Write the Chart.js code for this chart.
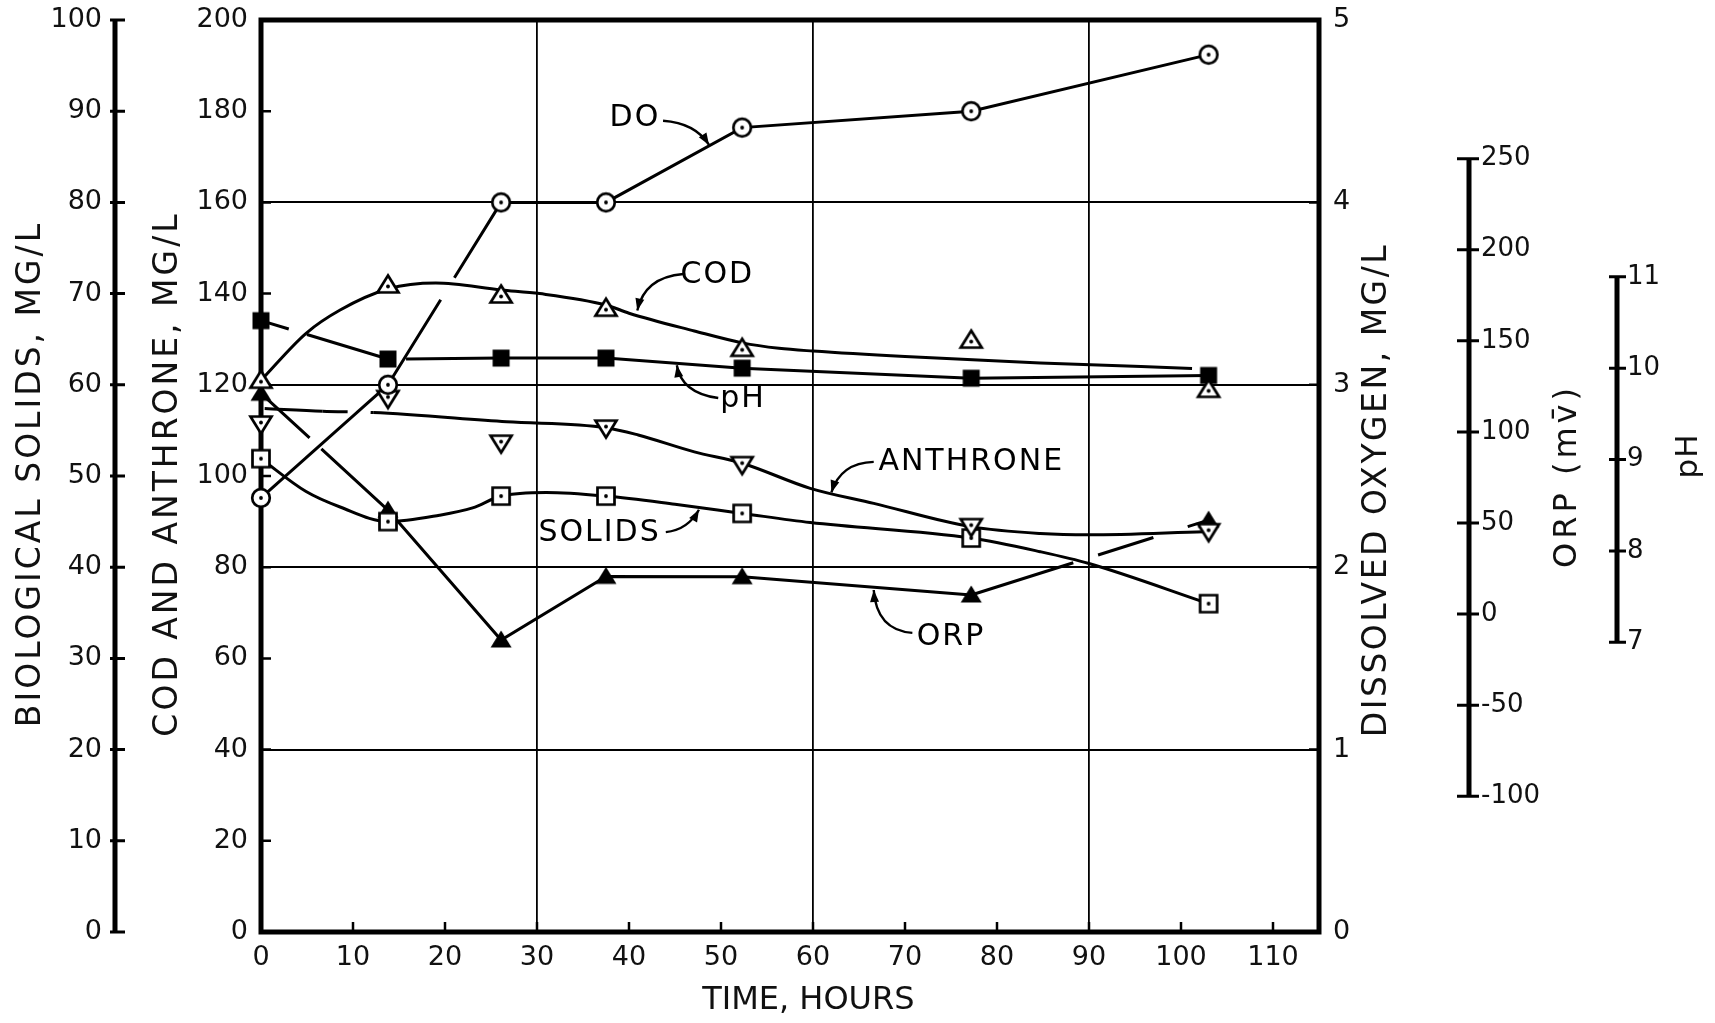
<!DOCTYPE html>
<html>
<head>
<meta charset="utf-8">
<script src="https://cdn.jsdelivr.net/npm/chart.js@4.4.0/dist/chart.umd.min.js"></script>
<style>
html,body{margin:0;padding:0;background:#fff}
#wrap{width:1715px;height:1023px}
</style>
</head>
<body>
<div id="wrap"><canvas id="c"></canvas></div>
<script>
'use strict';
// ── DATA ──────────────────────────────────────────────────────
const hours        = [0, 13.8, 26.1, 37.5, 52.3, 77.2, 103];
const doVals       = [2.38, 3.0, 4.0, 4.0, 4.41, 4.5, 4.81];
const codVals      = [121, 141.9, 139.7, 136.8, 128.0, 129.8, 119.0];
const phVals       = [10.52, 10.10, 10.11, 10.11, 10.0, 9.89, 9.92];
const anthroneVals = [111.4, 117.0, 107.2, 110.5, 102.5, 88.9, 87.8];
const solidsVals   = [51.9, 45.0, 47.8, 47.8, 45.9, 43.2, 36.0];
const orpVals      = [121.2, 57.1, -14.2, 20.7, 20.5, 10.5, 51.6];

// hand-drawn smooth curves through the scatter
const codCurveHours = [0, 4.9, 8.6, 13.8, 19, 26.1, 30.3, 37.5, 40, 47.1, 52.3, 56.3, 60, 70, 84.7, 101.2];
const codCurveVals  = [121, 131.3, 136.4, 141, 142.3, 140.8, 140, 137.5, 135.7, 131.8, 129.2, 128, 127.4, 126.2, 124.8, 123.6];
const anthCurveHours = [0.4, 6.7, 12.2, 26.7, 37.5, 41, 47.1, 52.3, 59.7, 66.6, 77.1, 84.7, 90, 102.5];
const anthCurveVals  = [114.8, 114.2, 113.9, 111.9, 110.6, 109, 105.3, 102.8, 97.3, 94, 88.9, 87.4, 87.1, 87.8];
const solCurveHours = [0, 4.9, 8.6, 13.8, 19.4, 23, 26.1, 31, 37.5, 45, 52.3, 59.7, 77.2, 84.7, 90, 103];
const solCurveVals  = [51.9, 48.3, 46.6, 45.0, 45.7, 46.5, 47.8, 48.2, 47.8, 46.9, 45.9, 44.9, 43.2, 41.7, 40.4, 36.0];

// ── TICKS ─────────────────────────────────────────────────────
const xTicks      = [0, 10, 20, 30, 40, 50, 60, 70, 80, 90, 100, 110];
const solidsTicks = [0, 10, 20, 30, 40, 50, 60, 70, 80, 90, 100];
const codTicks    = [0, 20, 40, 60, 80, 100, 120, 140, 160, 180, 200];
const doTicks     = [0, 1, 2, 3, 4, 5];
const orpTicks    = [-100, -50, 0, 50, 100, 150, 200, 250];
const phTicks     = [7, 8, 9, 10, 11];
const xGrid   = [30, 60, 90];
const codGrid = [40, 80, 120, 160];

// ── HELPERS ───────────────────────────────────────────────────
const FONT = '"DejaVu Sans", "Liberation Sans", sans-serif';
const pts = (xs, ys) => xs.map((x, i) => ({x, y: ys[i]}));

function marker(kind){
  const s = 28, m = s/2, c = document.createElement('canvas');
  c.width = c.height = s;
  const g = c.getContext('2d');
  g.strokeStyle = g.fillStyle = '#000';
  g.lineWidth = 2.7; g.lineJoin = 'miter';
  g.beginPath();
  let dy = 0;
  if (kind === 'circle') g.arc(m, m, 8.8, 0, Math.PI*2);
  else if (kind === 'square' || kind === 'fsquare') g.rect(m-8.5, m-8.5, 17, 17);
  else if (kind === 'tri' || kind === 'ftri') { g.moveTo(m, m-9.5); g.lineTo(m+10.5, m+7.5); g.lineTo(m-10.5, m+7.5); g.closePath(); dy = 1.5; }
  else if (kind === 'itri') { g.moveTo(m, m+9.5); g.lineTo(m+10.5, m-7.5); g.lineTo(m-10.5, m-7.5); g.closePath(); dy = -1.5; }
  if (kind[0] === 'f') { g.fill(); return c; }
  g.fillStyle = '#fff'; g.fill(); g.stroke();
  g.fillStyle = '#000'; g.beginPath(); g.arc(m, m+dy, 1.9, 0, Math.PI*2); g.fill();
  return c;
}
const mk = {circle: marker('circle'), tri: marker('tri'), itri: marker('itri'),
            square: marker('square'), fsquare: marker('fsquare'), ftri: marker('ftri')};

// breaks where a drawn line passes behind another one (keyed by segment index)
function breaks(map){
  return {borderDash: c => map[c.p0DataIndex]};
}

function lineDs(data, axis, smooth, gaps){
  const ds = {data, yAxisID: axis, borderColor:'#000', borderWidth:3, pointRadius:0,
          tension:0, cubicInterpolationMode: smooth ? 'monotone' : 'default',
          clip:false, order:2, fill:false};
  if (gaps) ds.segment = breaks(gaps);
  return ds;
}
function markDs(data, axis, style){
  return {data, yAxisID: axis, showLine:false, pointStyle: style, pointRadius:10,
          clip:false, order:1};
}

function noPad(s){ s.paddingTop = 0; s.paddingBottom = 0; s.paddingLeft = 0; s.paddingRight = 0; }

function yScale(pos, weight, width, min, max, vals, pad, size, grid){
  return {
    type:'linear', position:pos, weight, min, max,
    afterFit: s => { s.width = width; noPad(s); },
    afterBuildTicks: s => { s.ticks = vals.map(v => ({value:v})); },
    grid: grid || {display:false, drawTicks:false},
    border: {display:false},
    ticks: {autoSkip:false, padding:pad, color:'#111', font:{family:FONT, size}, callback: v => String(v)}
  };
}

// ── DECORATION: frame, odd axis spines, titles, call-outs ─────
const notes = [ // [hours, COD-scale] positions
  {text:'DO',       at:[40.65,178.5], from:[43.7,177.9], via:[47.2,177.4], to:[48.7,172.6]},
  {text:'COD',      at:[49.6,144.1],  from:[45.9,144.3], via:[41.7,143.6], to:[40.9,136.3]},
  {text:'pH',       at:[52.4,116.8],  from:[49.7,117.1], via:[45.7,118.2], to:[45.2,124.3]},
  {text:'ANTHRONE', at:[77.2,103.1],  from:[66.6,103.1], via:[63.0,102.9], to:[62.0,96.4]},
  {text:'SOLIDS',   at:[36.8,87.5],   from:[44.0,87.7],  via:[46.4,88.2],  to:[47.6,92.6]},
  {text:'ORP',      at:[75.0,64.7],   from:[70.8,65.6],  via:[66.9,66.2],  to:[66.6,75.0]},
];

function vText(ctx, text, x, y, size, spacing){
  ctx.save();
  ctx.translate(x, y); ctx.rotate(-Math.PI/2);
  ctx.font = size + 'px ' + FONT;
  ctx.letterSpacing = spacing + 'px';
  ctx.textAlign = 'center'; ctx.textBaseline = 'middle';
  ctx.fillText(text, 0, 0);
  ctx.restore();
}

const decor = {
  id:'decor',
  beforeDatasetsDraw(chart){
    const {ctx, chartArea:a, scales:s} = chart;
    ctx.save();
    ctx.strokeStyle = '#000'; ctx.fillStyle = '#000';
    ctx.lineWidth = 5; ctx.lineCap = 'square';
    ctx.strokeRect(a.left, a.top, a.right - a.left, a.bottom - a.top);
    // inward ticks
    ctx.lineWidth = 2.5; ctx.lineCap = 'butt';
    ctx.beginPath();
    xTicks.forEach(v => { const x = s.x.getPixelForValue(v); ctx.moveTo(x, a.bottom); ctx.lineTo(x, a.bottom - 10); });
    codTicks.forEach(v => { const y = s.yCOD.getPixelForValue(v); ctx.moveTo(a.left, y); ctx.lineTo(a.left + 10, y); });
    doTicks.forEach(v => { const y = s.yDO.getPixelForValue(v); ctx.moveTo(a.right, y); ctx.lineTo(a.right - 10, y); });
    ctx.stroke();
    // spines of the outboard axes
    const spine = (sc, vals, x, l, r) => {
      ctx.lineWidth = 5;
      ctx.beginPath();
      ctx.moveTo(x, sc.getPixelForValue(vals[0])); ctx.lineTo(x, sc.getPixelForValue(vals[vals.length-1]));
      ctx.stroke();
      ctx.lineWidth = 3;
      ctx.beginPath();
      vals.forEach(v => { const y = sc.getPixelForValue(v); ctx.moveTo(x - l, y); ctx.lineTo(x + r, y); });
      ctx.stroke();
    };
    spine(s.ySolids, solidsTicks, s.ySolids.right - 1, 5, 10);
    spine(s.yORP, orpTicks, s.yORP.left, 12, 10);
    spine(s.ypH, phTicks, s.ypH.left + 2, 8, 9);
    ctx.restore();
  },
  afterDatasetsDraw(chart){
    const {ctx, scales:s} = chart;
    const P = p => [s.x.getPixelForValue(p[0]), s.yCOD.getPixelForValue(p[1])];
    ctx.save();
    ctx.strokeStyle = '#000'; ctx.fillStyle = '#000'; ctx.lineWidth = 2.4;
    notes.forEach(n => {
      const [tx, ty] = P(n.at), [fx, fy] = P(n.from), [vx, vy] = P(n.via), [ex, ey] = P(n.to);
      ctx.font = '30px ' + FONT; ctx.letterSpacing = '2px';
      ctx.textAlign = 'center'; ctx.textBaseline = 'middle';
      ctx.fillText(n.text, tx, ty);
      ctx.beginPath(); ctx.moveTo(fx, fy); ctx.quadraticCurveTo(vx, vy, ex, ey); ctx.stroke();
      const ang = Math.atan2(ey - vy, ex - vx);
      ctx.beginPath();
      ctx.moveTo(ex, ey);
      ctx.lineTo(ex - 12*Math.cos(ang) + 4.5*Math.sin(ang), ey - 12*Math.sin(ang) - 4.5*Math.cos(ang));
      ctx.lineTo(ex - 12*Math.cos(ang) - 4.5*Math.sin(ang), ey - 12*Math.sin(ang) + 4.5*Math.cos(ang));
      ctx.closePath(); ctx.fill();
    });
    ctx.restore();
  },
  afterDraw(chart){
    const {ctx, scales:s} = chart;
    ctx.save();
    ctx.fillStyle = '#111';
    vText(ctx, 'BIOLOGICAL SOLIDS, MG/L', s.ySolids.left + 31, 474, 33, 3);
    vText(ctx, 'COD AND ANTHRONE, MG/L', s.yCOD.left + 52, 474, 33, 3);
    vText(ctx, 'DISSOLVED OXYGEN, MG/L', s.yDO.left + 58, 490, 33, 2.5);
    vText(ctx, 'ORP (mv\u0304)', s.yORP.left + 99, 476, 32, 4);
    vText(ctx, 'pH', s.ypH.left + 74, 456, 31, 1);
    ctx.font = '32px ' + FONT; ctx.letterSpacing = '0px';
    ctx.textAlign = 'center'; ctx.textBaseline = 'middle';
    ctx.fillText('TIME, HOURS', s.x.getPixelForValue(59.5), 1001);
    ctx.restore();
  }
};

// ── CHART ─────────────────────────────────────────────────────
new Chart(document.getElementById('c'), {
  type:'line',
  data:{ datasets:[
    lineDs(pts(hours, doVals), 'yDO', false, {1:[100, 26, 400]}),
    lineDs(pts(codCurveHours, codCurveVals), 'yCOD', true),
    lineDs(pts(hours, phVals), 'ypH', false, {0:[29, 19, 400], 1:[0.1, 18, 500]}),
    lineDs(pts(anthCurveHours, anthCurveVals), 'yCOD', true, {1:[25, 23, 300]}),
    lineDs(pts(solCurveHours, solCurveVals), 'ySolids', true),
    lineDs(pts(hours, orpVals), 'yORP', false, {0:[66, 16, 400], 5:[107, 26, 58, 36, 400]}),
    markDs(pts(hours, doVals), 'yDO', mk.circle),
    markDs(pts(hours, codVals), 'yCOD', mk.tri),
    markDs(pts(hours, phVals), 'ypH', mk.fsquare),
    markDs(pts(hours, anthroneVals), 'yCOD', mk.itri),
    markDs(pts(hours, solidsVals), 'ySolids', mk.square),
    markDs(pts(hours, orpVals), 'yORP', mk.ftri),
  ]},
  options:{
    responsive:true, maintainAspectRatio:false, animation:false,
    layout:{padding:{top:20, left:0, right:0, bottom:0}},
    plugins:{legend:{display:false}, tooltip:{enabled:false}},
    scales:{
      x:{
        type:'linear', min:0, max:115,
        afterFit: s => { s.height = 91; noPad(s); },
        afterBuildTicks: s => { s.ticks = xTicks.map(v => ({value:v})); },
        grid:{drawTicks:false, lineWidth:1.8,
              color: c => xGrid.includes(c.tick && c.tick.value) ? '#000' : 'rgba(0,0,0,0)'},
        border:{display:false},
        ticks:{autoSkip:false, maxRotation:0, padding:10, color:'#111', font:{family:FONT, size:27}, callback: v => String(v)}
      },
      ySolids: yScale('left', 2, 116, 0, 100, solidsTicks, 14, 27),
      yCOD: yScale('left', 1, 145, 0, 200, codTicks, 13, 27,
        {drawTicks:false, lineWidth:2,
         color: c => codGrid.includes(c.tick && c.tick.value) ? '#000' : 'rgba(0,0,0,0)'}),
      yDO: yScale('right', 0, 150, 0, 5, doTicks, 14, 27),
      yORP: yScale('right', 1, 146, -174.5, 326.1, orpTicks, 12, 26),
      ypH: yScale('right', 2, 100, 3.83, 13.81, phTicks, 12, 26),
    }
  },
  plugins:[decor]
});
</script>
</body>
</html>
